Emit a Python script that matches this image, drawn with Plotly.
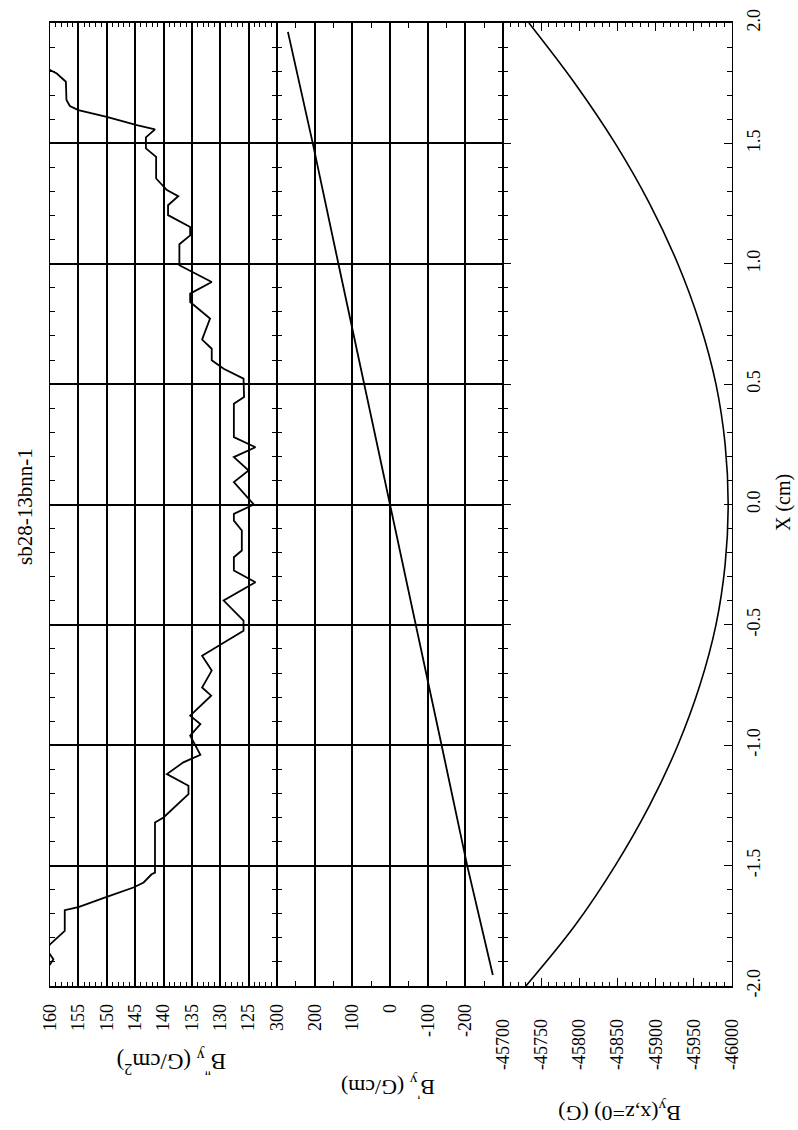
import plotly.graph_objects as go

# ---------------- data ----------------
# Panel 1: B''_y (G/cm^2) versus X (cm)
x_cm_dd = [-1.95, -1.91, -1.889, -1.868, -1.848, -1.827, -1.771, -1.685, -1.672, -1.63,
           -1.591, -1.57, -1.536, -1.529, -1.321, -1.30, -1.203, -1.168, -1.12, -1.071,
           -1.04, -0.96, -0.912, -0.877, -0.794, -0.76, -0.69, -0.628, -0.579, -0.524,
           -0.482, -0.399, -0.323, -0.274, -0.219, -0.191, -0.108, -0.067, -0.039, 0.0,
           0.093, 0.141, 0.197, 0.238, 0.28, 0.419, 0.446, 0.523, 0.564, 0.599,
           0.647, 0.685, 0.772, 0.841, 0.876, 0.924, 0.994, 1.081, 1.118, 1.153,
           1.202, 1.243, 1.281, 1.306, 1.354, 1.444, 1.479, 1.525, 1.558, 1.576,
           1.61, 1.638, 1.655, 1.68, 1.756, 1.79, 1.805, 1.85, 1.95]
b_dd = [161.5, 160.0, 159.4, 160.0, 160.6, 160.0, 157.4, 157.4, 155.0, 150.0,
        145.3, 143.5, 142.1, 141.5, 141.5, 140.0, 135.6, 135.6, 139.4, 136.5,
        133.5, 135.3, 133.5, 135.3, 131.6, 133.2, 131.5, 133.2, 129.7, 125.9,
        125.9, 129.4, 123.8, 127.6, 127.6, 126.2, 126.2, 127.6, 127.6, 124.1,
        127.6, 125.0, 127.6, 123.8, 127.6, 127.6, 125.8, 125.9, 129.4, 131.5,
        131.5, 133.2, 131.8, 135.3, 135.3, 131.5, 137.2, 137.2, 135.3, 135.3,
        139.2, 139.2, 137.4, 139.4, 141.3, 141.3, 143.1, 143.1, 141.5, 144.7,
        150.0, 155.0, 156.5, 157.1, 157.2, 158.8, 160.0, 162.0, 165.0]

# Panel 2: B'_y (G/cm) versus X (cm)
x_cm_d = [-1.954, -1.5, -1.0, -0.5, 0.0, 0.5, 1.0, 1.5, 1.963]
b_d = [-273, -205, -137, -68, 0, 68, 137, 205, 271]

# Panel 3: B_y(x,z=0) (G) versus X (cm)
x_cm_b = [-2.0, -1.75, -1.5, -1.25, -1.0, -0.75, -0.5, -0.25, 0.0,
          0.25, 0.5, 0.75, 1.0, 1.25, 1.5, 1.75, 2.0]
b_b = [-45730, -45794, -45847, -45892, -45929, -45958, -45979, -45991, -45995,
       -45991, -45979, -45958, -45929, -45892, -45847, -45794, -45734]

# tick labels
bdd_ticks = [160, 155, 150, 145, 140, 135, 130, 125]
bd_ticks = [300, 200, 100, 0, -100, -200]
b_ticks = [-45700, -45750, -45800, -45850, -45900, -45950, -46000]
x_ticks = [-2.0, -1.5, -1.0, -0.5, 0.0, 0.5, 1.0, 1.5, 2.0]

title_text = "sb28-13bnn-1"
xlab = "X (cm)"
lab_dd = "B<sup>''</sup><sub>y</sub> (G/cm<sup>2</sup>)"
lab_d = "B<sup>'</sup><sub>y</sub> (G/cm)"
lab_b = "B<sub>y</sub>(x,z=0) (G)"

# ---------------- figure ----------------
W, H = 798, 1130
ML, MR, MT, MB = 50, 66, 23, 144
PW = W - ML - MR
PH = H - MT - MB
d1 = 227 / PW
d2 = 453 / PW

FONT = "Liberation Serif"
line_style = dict(color="black", width=1.8)

fig = go.Figure()
fig.add_trace(go.Scatter(x=b_dd, y=x_cm_dd, mode="lines", line=line_style,
                         xaxis="x", yaxis="y", showlegend=False))
fig.add_trace(go.Scatter(x=b_d, y=x_cm_d, mode="lines", line=line_style,
                         xaxis="x2", yaxis="y2", showlegend=False))
fig.add_trace(go.Scatter(x=b_b, y=x_cm_b, mode="lines",
                         line=dict(color="black", width=1.6, shape="spline"),
                         xaxis="x3", yaxis="y3", showlegend=False))

common = dict(showline=True, linecolor="black", linewidth=1.6, mirror="ticks",
              ticks="inside", tickcolor="black", tickwidth=1.3,
              tickfont=dict(family=FONT, size=18, color="black"),
              zeroline=False, automargin=False, gridcolor="black", gridwidth=1.5)
ycommon = dict(common, linewidth=1.1)

fig.update_layout(
    width=W, height=H,
    margin=dict(l=ML, r=MR, t=MT, b=MB),
    paper_bgcolor="white", plot_bgcolor="white",
    xaxis=dict(common, domain=[0, d1], anchor="y", range=[160, 120],
               tickmode="array", tickvals=bdd_ticks, ticktext=[str(v) for v in bdd_ticks],
               tickangle=-90, showgrid=True, ticklen=6, ticklabelstandoff=9,
               minor=dict(dtick=1, tick0=0, ticks="inside", ticklen=4, tickcolor="black", showgrid=False)),
    xaxis2=dict(common, domain=[d1, d2], anchor="y2", range=[300, -300],
                tickmode="array", tickvals=bd_ticks, ticktext=[str(v) for v in bd_ticks],
                tickangle=-90, showgrid=True, ticklen=6, ticklabelstandoff=9,
                minor=dict(dtick=50, tick0=0, ticks="inside", ticklen=5, tickcolor="black", showgrid=False)),
    xaxis3=dict(common, domain=[d2, 1], anchor="y3", range=[-45700, -46000],
                tickmode="array", tickvals=b_ticks, ticktext=[str(v) for v in b_ticks],
                tickangle=-90, showgrid=False, ticklen=8, ticklabelstandoff=24,
                minor=dict(dtick=10, tick0=0, ticks="inside", ticklen=4, tickcolor="black", showgrid=False)),
    yaxis=dict(ycommon, domain=[0, 1], anchor="x", range=[-2, 2],
               tickmode="array", tickvals=x_ticks, showticklabels=False, showgrid=True, ticklen=8,
               minor=dict(dtick=0.1, tick0=0, ticks="inside", ticklen=5, tickcolor="black", showgrid=False)),
    yaxis2=dict(ycommon, domain=[0, 1], anchor="x2", range=[-2, 2], matches="y",
                tickmode="array", tickvals=x_ticks, showticklabels=False, showgrid=True, ticklen=8,
                minor=dict(dtick=0.1, tick0=0, ticks="inside", ticklen=5, tickcolor="black", showgrid=False)),
    yaxis3=dict(ycommon, domain=[0, 1], anchor="x3", range=[-2, 2], matches="y", side="right",
                tickmode="array", tickvals=x_ticks, ticktext=[f"{v:.1f}" for v in x_ticks],
                showticklabels=True, tickangle=-90, showgrid=False, ticklen=8, ticklabelstandoff=5,
                minor=dict(dtick=0.1, tick0=0, ticks="inside", ticklen=5, tickcolor="black", showgrid=False)),
)

def px_to_paper(px, py):
    return (px - ML) / PW, (H - MB - py) / PH

ann = []
for text, (px, py), ang, size in [
    (title_text, (25, 507), -90, 21),
    (xlab, (783, 503), -90, 20),
    (lab_dd, (172, 1062), 180, 23),
    (lab_d, (388, 1088), 180, 22),
    (lab_b, (620, 1112), 180, 22),
]:
    xp, yp = px_to_paper(px, py)
    ann.append(dict(text=text, x=xp, y=yp, xref="paper", yref="paper",
                    xanchor="center", yanchor="middle", textangle=ang, showarrow=False,
                    font=dict(family=FONT, size=size, color="black")))
fig.update_layout(annotations=ann)

fig.write_html("out.html")
